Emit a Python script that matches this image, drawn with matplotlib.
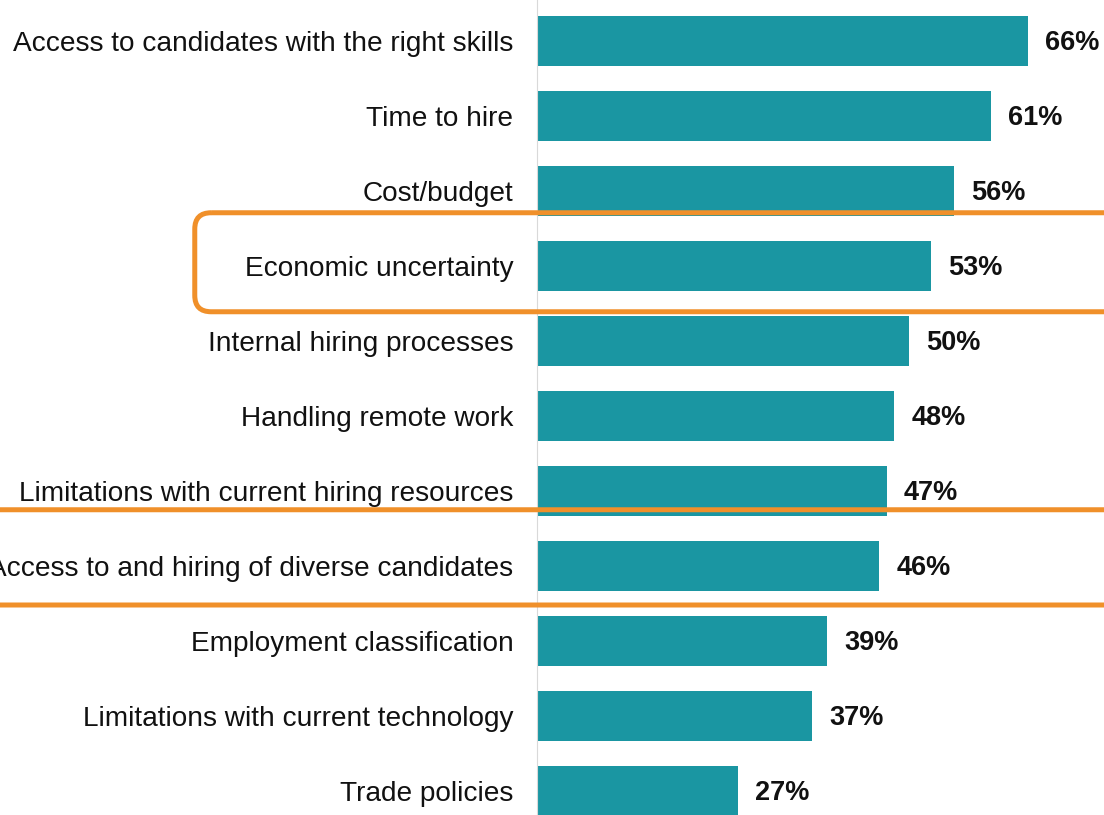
import matplotlib
matplotlib.use("Agg")
import matplotlib.pyplot as plt
from matplotlib.patches import FancyBboxPatch

categories = [
    "Access to candidates with the right skills",
    "Time to hire",
    "Cost/budget",
    "Economic uncertainty",
    "Internal hiring processes",
    "Handling remote work",
    "Limitations with current hiring resources",
    "Access to and hiring of diverse candidates",
    "Employment classification",
    "Limitations with current technology",
    "Trade policies",
]
values = [66, 61, 56, 53, 50, 48, 47, 46, 39, 37, 27]
highlighted = ["Economic uncertainty", "Access to and hiring of diverse candidates"]

BAR_COLOR = "#1A96A2"
BOX_COLOR = "#F0902A"

plt.rcParams["font.family"] = ["Liberation Sans", "DejaVu Sans"]

W, H = 1104, 815
fig = plt.figure(figsize=(W / 100, H / 100), dpi=100)
left_px = 537
ax = fig.add_axes([left_px / W, 0, (W - left_px) / W, 1])

px_per_unit = 7.44
row_px = 75.0
ypos = list(range(len(categories)))
ax.barh(ypos, values, height=0.66, color=BAR_COLOR, zorder=2)

ax.set_xlim(0, (W - left_px) / px_per_unit)
ax.set_ylim(10 + (H - 791) / row_px, -41 / row_px)

ax.set_yticks(ypos)
ax.set_yticklabels(categories, fontsize=20.2, color="#111111")
ax.tick_params(axis="y", length=0, pad=17)
ax.set_xticks([])
for s in ["top", "right", "bottom"]:
    ax.spines[s].set_visible(False)
ax.spines["left"].set_color("#d9d9d9")
ax.spines["left"].set_linewidth(0.8)

for y, v in zip(ypos, values):
    ax.text(v + 2.3, y + 0.03, f"{v}%", va="center", ha="left",
            fontsize=19.5, fontweight="bold", color="#111111")

# Orange rounded outlines around the highlighted rows
aspect = px_per_unit / row_px
boxes = {
    "Economic uncertainty": (-46.0, 140.0, -0.71, 0.61),
    "Access to and hiring of diverse candidates": (-80.0, 170.0, -0.75, 0.52),
}
for name in highlighted:
    x0, w, dy0, dy1 = boxes[name]
    yc = categories.index(name)
    patch = FancyBboxPatch(
        (x0, yc + dy0), w, dy1 - dy0,
        boxstyle="round,pad=0,rounding_size=2.2",
        mutation_aspect=aspect,
        fill=False, edgecolor=BOX_COLOR, linewidth=3.6,
        clip_on=False, zorder=3, transform=ax.transData,
    )
    ax.add_patch(patch)

fig.savefig("out.png", dpi=100)
